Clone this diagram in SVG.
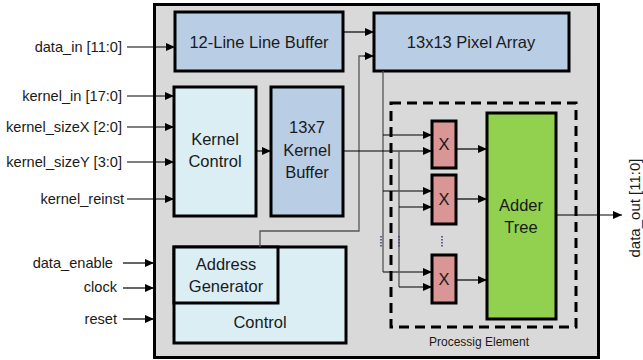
<svg xmlns="http://www.w3.org/2000/svg" width="643" height="360" viewBox="0 0 643 360">
<defs>
<marker id="ah" markerWidth="9" markerHeight="8" refX="9" refY="4" orient="auto" markerUnits="userSpaceOnUse">
<path d="M0,0 L9,4 L0,8 Z" fill="#000"/>
</marker>
<style>
.t{font-family:"Liberation Sans",Arial,sans-serif;fill:#1a1a1a}
.lbl{font-size:14.6px;text-anchor:end}
.box{stroke:#000;stroke-width:3}
.c{text-anchor:middle;font-size:16.5px}
.blue{fill:#b9cde5}
.cyan{fill:#dbeef4}
.red{fill:#d99694}
.w{fill:none;stroke:#000;stroke-width:1.2}
.g{fill:none;stroke:#555;stroke-width:1.3}
.dots{fill:none;stroke:#2f3f7f;stroke-width:1.5;stroke-dasharray:1.5,1.5}
</style>
</defs>
<rect x="0" y="0" width="643" height="360" fill="#fff"/>
<rect id="chip" x="154.5" y="4.5" width="444" height="353" fill="#d9d9d9" stroke="#000" stroke-width="3"/>

<g id="pe-frame">
<rect x="391" y="103" width="185" height="224" fill="none" stroke="#000" stroke-width="3" stroke-dasharray="10,6"/>
<text class="t" x="479" y="346" font-size="12" text-anchor="middle">Processig Element</text>
</g>

<g id="line-buffer"><rect class="box blue" x="175" y="12" width="168" height="59"/><text class="t c" x="259" y="48">12-Line Line Buffer</text></g>
<g id="pixel-array"><rect class="box blue" x="374" y="13" width="195" height="58"/><text class="t c" x="471" y="48">13x13 Pixel Array</text></g>
<g id="kernel-control"><rect class="box cyan" x="174" y="87" width="82" height="129"/><text class="t c" x="215" y="145">Kernel</text><text class="t c" x="215" y="167">Control</text></g>
<g id="kernel-buffer"><rect class="box blue" x="271" y="87" width="72" height="129"/><text class="t c" x="307" y="133">13x7</text><text class="t c" x="307" y="156">Kernel</text><text class="t c" x="307" y="178">Buffer</text></g>
<g id="control"><rect class="box cyan" x="174" y="247" width="172" height="96"/><text class="t c" x="260" y="328">Control</text></g>
<g id="address-generator"><rect class="box cyan" x="174" y="247" width="104" height="56"/><text class="t c" x="226" y="270">Address</text><text class="t c" x="226" y="292">Generator</text></g>
<g id="mult1"><rect class="box red" x="432" y="121" width="24" height="47"/><text class="t c" x="444" y="150">X</text></g>
<g id="mult2"><rect class="box red" x="432" y="175" width="24" height="49"/><text class="t c" x="444" y="205">X</text></g>
<g id="mult3"><rect class="box red" x="432" y="255" width="24" height="48"/><text class="t c" x="444" y="285">X</text></g>
<g id="adder-tree"><rect class="box" fill="#92d050" x="487" y="113" width="69" height="206"/><text class="t c" x="521" y="211" font-size="17">Adder</text><text class="t c" x="521" y="233" font-size="17">Tree</text></g>

<g id="inputs">
<text class="t lbl" x="122" y="52">data_in [11:0]</text>
<text class="t lbl" x="122" y="101">kernel_in [17:0]</text>
<text class="t lbl" x="122" y="132">kernel_sizeX [2:0]</text>
<text class="t lbl" x="122" y="167">kernel_sizeY [3:0]</text>
<text class="t lbl" x="124" y="204">kernel_reinst</text>
<text class="t lbl" x="113" y="268">data_enable</text>
<text class="t lbl" x="117" y="292">clock</text>
<text class="t lbl" x="117" y="324">reset</text>
<text class="t" font-size="15" transform="translate(640,208) rotate(-90)" text-anchor="middle">data_out [11:0]</text>
</g>

<g id="connectors">
<line class="w" x1="127" y1="47" x2="175" y2="47" marker-end="url(#ah)"/>
<line class="w" x1="127" y1="96" x2="174" y2="96" marker-end="url(#ah)"/>
<line class="w" x1="127" y1="127" x2="174" y2="127" marker-end="url(#ah)"/>
<line class="w" x1="127" y1="162" x2="174" y2="162" marker-end="url(#ah)"/>
<line class="w" x1="127" y1="199" x2="174" y2="199" marker-end="url(#ah)"/>
<line class="w" x1="123" y1="263" x2="154" y2="263" marker-end="url(#ah)"/>
<line class="w" x1="123" y1="288" x2="154" y2="288" marker-end="url(#ah)"/>
<line class="w" x1="123" y1="319" x2="154" y2="319" marker-end="url(#ah)"/>
<line class="w" x1="343" y1="32" x2="374" y2="32" marker-end="url(#ah)"/>
<line class="w" x1="256" y1="151" x2="271" y2="151" marker-end="url(#ah)"/>
<polyline class="g" points="260,247 260,231 359,231 359,56 366,56"/>
<line class="w" x1="364" y1="56" x2="374" y2="56" marker-end="url(#ah)"/>
<polyline class="g" points="383,71 383,272"/>
<line class="w" x1="383" y1="135" x2="432" y2="135" marker-end="url(#ah)"/>
<line class="w" x1="383" y1="191" x2="432" y2="191" marker-end="url(#ah)"/>
<line class="w" x1="383" y1="272" x2="432" y2="272" marker-end="url(#ah)"/>
<line class="w" x1="343" y1="151" x2="432" y2="151" marker-end="url(#ah)"/>
<polyline class="g" points="399,151 399,287"/>
<line class="w" x1="399" y1="207" x2="432" y2="207" marker-end="url(#ah)"/>
<line class="w" x1="399" y1="287" x2="432" y2="287" marker-end="url(#ah)"/>
<line class="w" x1="456" y1="149" x2="487" y2="149" marker-end="url(#ah)"/>
<line class="w" x1="456" y1="199" x2="487" y2="199" marker-end="url(#ah)"/>
<line class="w" x1="456" y1="280" x2="487" y2="280" marker-end="url(#ah)"/>
<line class="w" x1="556" y1="215" x2="622" y2="215" marker-end="url(#ah)"/>
<line class="dots" x1="381" y1="236" x2="381" y2="248"/>
<line class="dots" x1="399" y1="236" x2="399" y2="248"/>
<line class="dots" x1="442" y1="236" x2="442" y2="248"/>
</g>
</svg>
